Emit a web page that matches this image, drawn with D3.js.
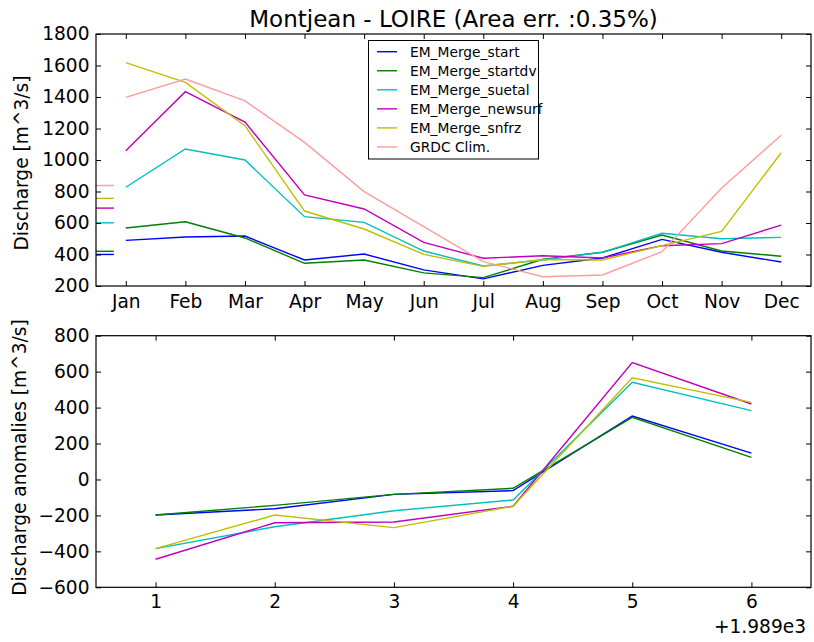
<!DOCTYPE html>
<html>
<head>
<meta charset="utf-8">
<script src="https://cdn.jsdelivr.net/npm/d3@7"></script>
<style>
body { margin: 0; background: #fff; }
svg { display: block; font-family: "DejaVu Sans", sans-serif; }
</style>
</head>
<body>
<svg id="chart" width="814" height="642"></svg>
<script>
// ---------- data ----------
const months = ["Jan","Feb","Mar","Apr","May","Jun","Jul","Aug","Sep","Oct","Nov","Dec"];
const seriesNames = ["EM_Merge_start","EM_Merge_startdv","EM_Merge_suetal","EM_Merge_newsurf","EM_Merge_snfrz","GRDC Clim."];
const seriesColors = ["#0000ff","#008000","#00bfbf","#bf00bf","#bfbf00","#ff9c9c"];

const climStart    = [490, 511, 517, 365, 403, 302, 245, 331, 378, 496, 414, 352];
const climStartdv  = [568, 608, 505, 344, 365, 283, 253, 370, 414, 524, 422, 389];
const climSuetal   = [827, 1070, 1000, 640, 604, 422, 327, 365, 414, 535, 500, 509];
const climNewsurf  = [1059, 1434, 1241, 778, 689, 477, 376, 392, 378, 456, 469, 587];
const climSnfrz    = [1618, 1493, 1218, 676, 562, 401, 325, 368, 365, 456, 547, 1046];
const climGRDC     = [1398, 1514, 1375, 1112, 799, 577, 355, 259, 270, 418, 822, 1157];

const years = [1, 2, 3, 4, 5, 6];          // offset +1989
const yearOffsetLabel = "+1.989e3";
const anomStart    = [-198, -163, -83, -62, 353, 147];
const anomStartdv  = [-198, -144, -83, -49, 346, 123];
const anomSuetal   = [-385, -263, -174, -114, 541, 383];
const anomNewsurf  = [-444, -241, -237, -149, 650, 420];
const anomSnfrz    = [-385, -198, -268, -149, 566, 429];

const topTicks = [200, 400, 600, 800, 1000, 1200, 1400, 1600, 1800];
const botTicks = [-600, -400, -200, 0, 200, 400, 600, 800];

const titleText = "Montjean - LOIRE (Area err. :0.35%)";
const yLabelTop = "Discharge [m^3/s]";
const yLabelBot = "Discharge anomalies [m^3/s]";

// ---------- drawing ----------
const svg = d3.select("#chart");
const FS = 18.6;
const L = 96, R = 811;
const topY0 = 34, topY1 = 286;
const botY0 = 335.7, botY1 = 587.3;

const climSeries = [climStart, climStartdv, climSuetal, climNewsurf, climSnfrz, climGRDC];
const anomSeries = [anomStart, anomStartdv, anomSuetal, anomNewsurf, anomSnfrz];

const xTop = d3.scaleLinear().domain([0.5, 12.5]).range([L, R]);
const yTop = d3.scaleLinear().domain([200, 1800]).range([topY1, topY0]);
const xBot = d3.scaleLinear().domain([0.5, 6.5]).range([L, R]);
const yBot = d3.scaleLinear().domain([-600, 800]).range([botY1, botY0]);

const numFmt = d3.format("d");

function frameAxes(g, x, y, xTicks, xFmt, yTicks, y0, y1, xPad) {
  const ax = [
    g.append("g").attr("transform", `translate(0,${y1})`)
      .call(d3.axisBottom(x).tickValues(xTicks).tickSize(-5).tickPadding(xPad).tickFormat(xFmt)),
    g.append("g").attr("transform", `translate(0,${y0})`)
      .call(d3.axisTop(x).tickValues(xTicks).tickSize(-5).tickFormat("")),
    g.append("g").attr("transform", `translate(${L},0)`)
      .call(d3.axisLeft(y).tickValues(yTicks).tickSize(-5).tickPadding(6.5).tickFormat(numFmt)),
    g.append("g").attr("transform", `translate(${R},0)`)
      .call(d3.axisRight(y).tickValues(yTicks).tickSize(-5).tickFormat(""))
  ];
  ax.forEach(a => {
    a.select(".domain").remove();
    a.selectAll(".tick line").attr("stroke", "#000").attr("stroke-width", 1);
    a.selectAll(".tick text").attr("font-size", FS).attr("font-family", "DejaVu Sans").attr("fill", "#000");
  });
  g.append("rect").attr("x", L).attr("y", y0).attr("width", R - L).attr("height", y1 - y0)
    .attr("fill", "none").attr("stroke", "#000").attr("stroke-width", 1.2);
}

// Top panel
const gTop = svg.append("g");
svg.append("clipPath").attr("id", "clipTop")
  .append("rect").attr("x", L).attr("y", topY0).attr("width", R - L).attr("height", topY1 - topY0);

const lineTop = d3.line().x((d, i) => xTop(i + 1)).y(d => yTop(d));
const gLinesTop = gTop.append("g").attr("clip-path", "url(#clipTop)");
climSeries.forEach((s, k) => {
  gLinesTop.append("path").datum(s).attr("d", lineTop)
    .attr("fill", "none").attr("stroke", seriesColors[k]).attr("stroke-width", 1.4);
});
// annual mean markers at the left edge
climSeries.forEach((s, k) => {
  const m = d3.mean(s);
  gLinesTop.append("line")
    .attr("x1", xTop(0.5)).attr("x2", xTop(0.5) + 0.025 * (R - L))
    .attr("y1", yTop(m)).attr("y2", yTop(m))
    .attr("stroke", seriesColors[k]).attr("stroke-width", 1.4);
});
frameAxes(gTop, xTop, yTop, d3.range(1, 13), (d) => months[d - 1], topTicks, topY0, topY1, 8.5);

// Legend
const leg = gTop.append("g");
leg.append("rect").attr("x", 368.5).attr("y", 40.5).attr("width", 170).attr("height", 118.5)
  .attr("fill", "#fff").attr("stroke", "#000").attr("stroke-width", 1);
seriesNames.forEach((n, i) => {
  const yy = 51.7 + i * 19.05;
  leg.append("line").attr("x1", 377).attr("x2", 397).attr("y1", yy).attr("y2", yy)
    .attr("stroke", seriesColors[i]).attr("stroke-width", 1.4);
  leg.append("text").attr("x", 410).attr("y", yy).attr("dy", "0.36em")
    .attr("font-size", 13.8).attr("fill", "#000").text(n);
});

// Title
svg.append("text").attr("x", (L + R) / 2).attr("y", 27).attr("text-anchor", "middle")
  .attr("font-size", 23).attr("fill", "#000").text(titleText);

// Y label top
svg.append("text").attr("transform", `translate(28,${(topY0 + topY1) / 2 + 3}) rotate(-90)`)
  .attr("text-anchor", "middle").attr("font-size", FS).attr("fill", "#000").text(yLabelTop);

// Bottom panel
const gBot = svg.append("g");
svg.append("clipPath").attr("id", "clipBot")
  .append("rect").attr("x", L).attr("y", botY0).attr("width", R - L).attr("height", botY1 - botY0);
const lineBot = d3.line().x((d, i) => xBot(years[i])).y(d => yBot(d));
const gLinesBot = gBot.append("g").attr("clip-path", "url(#clipBot)");
anomSeries.forEach((s, k) => {
  gLinesBot.append("path").datum(s).attr("d", lineBot)
    .attr("fill", "none").attr("stroke", seriesColors[k]).attr("stroke-width", 1.4);
});
frameAxes(gBot, xBot, yBot, years, d3.format("d"), botTicks, botY0, botY1, 7.5);

svg.append("text").attr("x", 806).attr("y", 633).attr("text-anchor", "end")
  .attr("font-size", FS).attr("fill", "#000").text(yearOffsetLabel);

svg.append("text").attr("transform", `translate(26,${(botY0 + botY1) / 2 - 4}) rotate(-90)`)
  .attr("text-anchor", "middle").attr("font-size", FS).attr("fill", "#000").text(yLabelBot);
</script>
</body>
</html>
